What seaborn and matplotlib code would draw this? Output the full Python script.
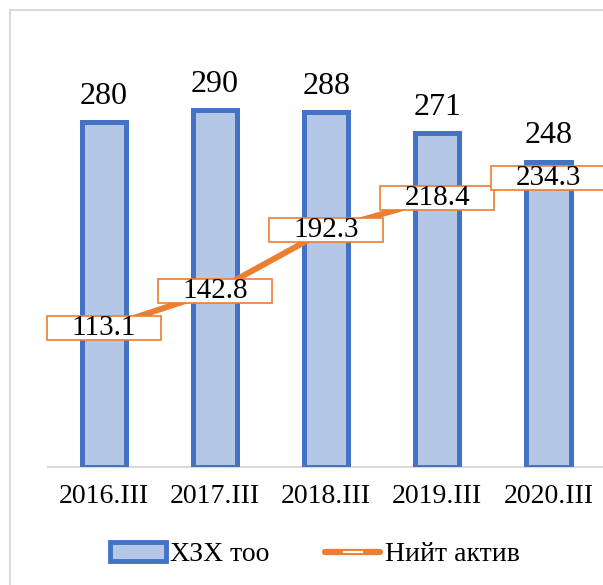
import numpy as np
import matplotlib.pyplot as plt
import seaborn as sns
from matplotlib.patches import Rectangle, Patch
from matplotlib.lines import Line2D

periods = ["2016.III", "2017.III", "2018.III", "2019.III", "2020.III"]
count_values = [280, 290, 288, 271, 248]
asset_values = [113.1, 142.8, 192.3, 218.4, 234.3]
count_label = "ХЗХ тоо"
asset_label = "Нийт актив"

bar_fill = "#B4C7E7"
bar_edge = "#4472C4"
line_color = "#ED7D31"

sns.set_theme(style="white")
plt.rcParams["font.family"] = ["Liberation Serif", "DejaVu Serif"]
plt.rcParams["text.color"] = "black"
plt.rcParams["xtick.color"] = "black"

fig = plt.figure(figsize=(6.03, 5.85), dpi=100)
ax = fig.add_axes([0.0804, 0.2017, 0.921, 0.7368])

# light frame of the chart area (left and top visible)
fig.patches.append(Rectangle((10 / 603, -0.1), 1.2, 1.1 - 10 / 585,
                             transform=fig.transFigure, fill=False,
                             edgecolor="#D9D9D9", linewidth=1.5, zorder=0))

positions = np.arange(len(periods))
sns.barplot(x=positions, y=count_values, ax=ax, color=bar_fill, width=0.40,
            edgecolor=bar_edge, linewidth=3.6, saturation=1, native_scale=True,
            zorder=2)
sns.lineplot(x=positions, y=asset_values, ax=ax, color=line_color,
             linewidth=4.3, zorder=3)

ax.set_xlim(-0.5, len(periods) - 0.5)
ax.set_ylim(0, 350)

# bar value labels
for x, v in zip(positions, count_values):
    ax.annotate(f"{v}", (x, v), xytext=(0, 8), textcoords="offset points",
                ha="center", va="bottom", fontsize=23, color="black", zorder=5)

# line value labels in boxes
box_w, box_h = 1.03, 19.5
for x, v in zip(positions, asset_values):
    ax.add_patch(Rectangle((x - box_w / 2, v - box_h / 2), box_w, box_h,
                           facecolor="white", edgecolor=line_color,
                           linewidth=1.2, zorder=4, clip_on=False))
    ax.text(x, v, f"{v:.1f}", ha="center", va="center", fontsize=21,
            color="black", zorder=5, clip_on=False)

ax.set_xticks(positions)
ax.set_xticklabels(periods, fontsize=20, color="black")
ax.tick_params(axis="x", length=0, pad=12)
ax.set_yticks([])
ax.set_xlabel("")
ax.set_ylabel("")
for side in ["left", "right", "top"]:
    ax.spines[side].set_visible(False)
ax.spines["bottom"].set_color("#D9D9D9")
ax.spines["bottom"].set_linewidth(1.5)
ax.spines["bottom"].set_zorder(1)
ax.patch.set_alpha(0)

handles = [
    Patch(facecolor=bar_fill, edgecolor=bar_edge, linewidth=3.5),
    Line2D([0], [0], color=line_color, linewidth=4.5, marker="_",
           markersize=14, markeredgecolor="white", markeredgewidth=1.5),
]
fig.legend(handles, [count_label, asset_label], loc="center",
           bbox_to_anchor=(0.522, 0.052), ncol=2, frameon=False, fontsize=20,
           handlelength=2.0, handletextpad=0.15, columnspacing=2.0,
           numpoints=1, labelcolor="black")

fig.savefig("out.png", dpi=100)
